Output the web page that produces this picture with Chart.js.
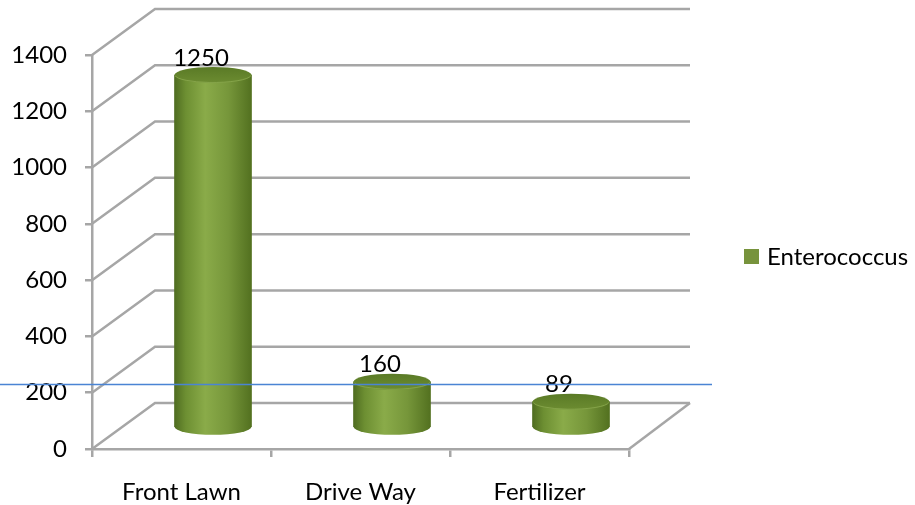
<!DOCTYPE html>
<html>
<head>
<meta charset="utf-8">
<script src="https://cdn.jsdelivr.net/npm/chart.js@4.4.1/dist/chart.umd.min.js"></script>
<style>
  html, body { margin: 0; padding: 0; background: #fff; }
  #wrap { width: 915px; height: 505px; }
</style>
</head>
<body>
<div id="wrap"><canvas id="canvas" width="915" height="505"></canvas></div>
<script>
// data
var categories = ["Front Lawn", "Drive Way", "Fertilizer"];
var enterococcus = [1250, 160, 89];
var seriesName = "Enterococcus";
var yTicks = [0, 200, 400, 600, 800, 1000, 1200, 1400];
var referenceLevel = 229; // the blue line across the chart

// look
var FONT = "Lato, 'Open Sans', sans-serif";
var FONT_SIZE = 24;
var GRID = "#a6a6a6";
var GREEN = "#77933c";
var DEPTH_X = 63, DEPTH_Y = -46; // back wall offset of the 3d box

function cylinderFill(c) {
	var chart = c.chart;
	if (!chart.chartArea || !chart.scales.xMid || !c.raw) return GREEN;
	var cx = chart.scales.xMid.getPixelForValue(c.raw.x);
	var g = chart.ctx.createLinearGradient(cx - 39, 0, cx + 39, 0);
	g.addColorStop(0, "#4e6b20");
	g.addColorStop(0.15, "#6d8f32");
	g.addColorStop(0.4, "#8aab49");
	g.addColorStop(0.7, "#76963a");
	g.addColorStop(1, "#52701f");
	return g;
}

var threeD = {
	id: "threeD",
	beforeDatasetsDraw: function(chart) {
		var ctx = chart.ctx, y = chart.scales.y, a = chart.chartArea;
		ctx.save();
		ctx.strokeStyle = GRID;
		ctx.lineWidth = 2.5;
		yTicks.forEach(function(v) {
			var py = y.getPixelForValue(v);
			ctx.beginPath();
			ctx.moveTo(a.left, py);
			ctx.lineTo(a.left + DEPTH_X, py + DEPTH_Y);
			ctx.lineTo(a.right + DEPTH_X - 2, py + DEPTH_Y);
			ctx.stroke();
		});
		// floor right edge
		var p0 = y.getPixelForValue(0);
		ctx.beginPath();
		ctx.moveTo(a.right, p0);
		ctx.lineTo(a.right + DEPTH_X - 2, p0 + DEPTH_Y);
		ctx.stroke();
		ctx.restore();
	},
	afterDatasetsDraw: function(chart) {
		var ctx = chart.ctx;
		var meta = chart.getDatasetMeta(0);
		ctx.save();
		meta.data.forEach(function(bar, i) {
			var p = bar.getProps(["x", "y", "base", "width"], true);
			var rx = p.width / 2, ry = 8;
			// bottom of the cylinder
			ctx.fillStyle = bar.options.backgroundColor;
			ctx.beginPath();
			ctx.ellipse(p.x, p.base, rx, ry, 0, 0, Math.PI);
			ctx.fill();
			// top of the cylinder
			var g = ctx.createLinearGradient(0, p.y - ry, 0, p.y + ry);
			g.addColorStop(0, "#5a7a26");
			g.addColorStop(1, "#6c8c31");
			ctx.fillStyle = g;
			ctx.beginPath();
			ctx.ellipse(p.x, p.y, rx, ry, 0, 0, Math.PI * 2);
			ctx.fill();
			ctx.strokeStyle = "rgba(150,180,90,0.6)";
			ctx.lineWidth = 1;
			ctx.beginPath();
			ctx.ellipse(p.x, p.y, rx - 0.5, ry - 0.5, 0, 0.1, Math.PI - 0.1);
			ctx.stroke();
			// value label
			ctx.fillStyle = "#000";
			ctx.font = FONT_SIZE + "px " + FONT;
			ctx.textAlign = "center";
			ctx.textBaseline = "middle";
			ctx.fillText(String(enterococcus[i]), p.x - 12, p.y - 17);
		});
		ctx.restore();
	},
	afterDraw: function(chart) {
		var ctx = chart.ctx, a = chart.chartArea;
		ctx.save();
		// blue reference line
		var py = chart.scales.y.getPixelForValue(referenceLevel);
		ctx.strokeStyle = "#4a84d4";
		ctx.lineWidth = 1.5;
		ctx.beginPath();
		ctx.moveTo(0, py);
		ctx.lineTo(a.right + 83, py);
		ctx.stroke();
		// legend
		ctx.fillStyle = GREEN;
		ctx.fillRect(a.right + 115, 249, 15, 15);
		ctx.fillStyle = "#000";
		ctx.font = FONT_SIZE + "px " + FONT;
		ctx.textAlign = "left";
		ctx.textBaseline = "middle";
		ctx.fillText(seriesName, a.right + 138, 257);
		ctx.restore();
	}
};

var ctx = document.getElementById("canvas").getContext("2d");
var chart = new Chart(ctx, {
	type: "bar",
	data: {
		labels: categories,
		datasets: [{
			label: seriesName,
			data: enterococcus.map(function(v, i) { return { x: i, y: v }; }),
			xAxisID: "xMid",
			yAxisID: "yMid",
			barThickness: 77,
			backgroundColor: cylinderFill,
			borderWidth: 0
		}]
	},
	options: {
		responsive: false,
		animation: false,
		devicePixelRatio: 1,
		layout: { padding: { left: 0, right: 286, top: 55, bottom: 0 } },
		plugins: { legend: { display: false }, tooltip: { enabled: false } },
		scales: {
			x: {
				type: "category",
				offset: true,
				grid: { offset: true, drawOnChartArea: false, color: GRID, lineWidth: 2.5, tickLength: 8 },
				border: { color: GRID, width: 2.5 },
				ticks: { color: "#000", font: { family: FONT, size: FONT_SIZE }, padding: 21, maxRotation: 0 },
				afterFit: function(s) { s.height = 56; }
			},
			y: {
				type: "linear",
				position: "left",
				min: 0,
				max: 1400,
				afterBuildTicks: function(s) { s.ticks = yTicks.map(function(v) { return { value: v }; }); },
				grid: { drawOnChartArea: false, color: GRID, lineWidth: 2.5, tickLength: 7 },
				border: { color: GRID, width: 2.5 },
				ticks: {
					color: "#000",
					font: { family: FONT, size: FONT_SIZE },
					padding: 18,
					callback: function(v) { return String(v); }
				},
				afterFit: function(s) { s.width = 92; }
			},
			// mid-depth plane where the cylinders stand
			xMid: { type: "linear", display: false, offset: false, min: -0.676, max: 2.324 },
			yMid: { type: "linear", display: false, min: -79, max: 1321 }
		}
	},
	plugins: [threeD]
});
</script>
</body>
</html>
